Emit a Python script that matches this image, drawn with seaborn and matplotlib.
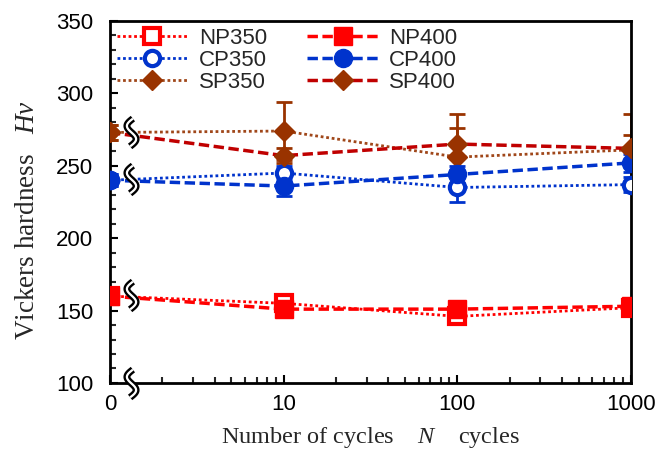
import numpy as np
import pandas as pd
import seaborn as sns
import matplotlib
matplotlib.use("Agg")
import matplotlib.pyplot as plt
from matplotlib.path import Path
from matplotlib.ticker import LogLocator, NullFormatter

# Cycle counts (0 is drawn at the position of 1 on the log axis)
cycles = [0, 10, 100, 1000]
cycle_labels = ["0", "10", "100", "1000"]

# Vickers hardness values
NP350 = [160, 155, 146, 152]
NP400 = [160, 151, 151, 153]
CP350 = [240, 245, 235, 237]
CP400 = [240, 236, 244, 252]
SP350 = [273, 274, 256, 261]
SP400 = [273, 257, 265, 262]

# error bars
NP350_err = [3, 3, 3, 3]
NP400_err = [3, 3, 3, 3]
CP350_err = [4, 5, 10, 5]
CP400_err = [4, 7, 6, 6]
SP350_err = [5, 20, 20, 10]
SP400_err = [5, 5, 21, 24]

# heights of the axis break marks
break_levels = [273, 241, 161, 100]

sns.set_style("ticks")
plt.rcParams['font.family'] = ['Liberation Sans', 'DejaVu Sans']
plt.rcParams['mathtext.fontset'] = 'custom'
plt.rcParams['mathtext.rm'] = 'Liberation Serif'
plt.rcParams['mathtext.it'] = 'Liberation Serif:italic'

x_pos = [c if c > 0 else 1 for c in cycles]

series = [
    ("NP350", NP350, NP350_err, dict(color="#FF0000", marker="s", mfc="white", mec="#FF0000", mew=3, ms=11, ls=(0, (1, 1)), lw=2.0), "#FF0000"),
    ("CP350", CP350, CP350_err, dict(color="#0033CC", marker="o", mfc="white", mec="#0033CC", mew=3, ms=11, ls=(0, (1, 1)), lw=2.0), "#0033CC"),
    ("SP350", SP350, SP350_err, dict(color="#A0471A", marker="D", mfc="#993300", mec="#993300", mew=1, ms=10, ls=(0, (1, 1)), lw=2.0), "#993300"),
    ("NP400", NP400, NP400_err, dict(color="#FF0000", marker="s", mfc="#FF0000", mec="#FF0000", mew=1, ms=13, ls=(0, (3, 1.3)), lw=2.5), "#FF0000"),
    ("CP400", CP400, CP400_err, dict(color="#0033CC", marker="o", mfc="#0033CC", mec="#0033CC", mew=1, ms=13, ls=(0, (3, 1.3)), lw=2.5), "#0033CC"),
    ("SP400", SP400, SP400_err, dict(color="#C00000", marker="D", mfc="#993300", mec="#993300", mew=1, ms=10, ls=(0, (3, 1.3)), lw=2.5), "#993300"),
]

fig = plt.figure(figsize=(6.6, 4.58), dpi=100)
ax = fig.add_axes([0.1667, 0.1638, 0.7894, 0.7904])

for name, vals, err, st, ecol in series:
    df = pd.DataFrame({"N": x_pos, "Hv": vals})
    ax.errorbar(df["N"], df["Hv"], yerr=err, fmt="none", ecolor=ecol,
                elinewidth=2, capsize=6, capthick=2, zorder=2)
    sns.lineplot(data=df, x="N", y="Hv", ax=ax, label=name, errorbar=None,
                 color=st["color"], marker=st["marker"], markersize=st["ms"],
                 markerfacecolor=st["mfc"], markeredgecolor=st["mec"],
                 markeredgewidth=st["mew"], linestyle=st["ls"], linewidth=st["lw"],
                 zorder=3)

# S-shaped break symbol
t = np.linspace(-1, 1, 40)
s_path = Path(np.column_stack([0.38 * np.sin(np.pi * t) - 0.1 * t, -t]))
for lvl in break_levels:
    ax.plot([1.32], [lvl], marker=s_path, ms=20, mfc="none", mec="black",
            mew=5, ls="none", zorder=5, clip_on=False)
    ax.plot([1.32], [lvl], marker=s_path, ms=20, mfc="none", mec="white",
            mew=1.6, ls="none", zorder=6, clip_on=False)

ax.set_xscale("log")
ax.set_xlim(1, 1000)
ax.set_ylim(100, 350)
ax.set_xticks(x_pos, labels=cycle_labels)
ax.xaxis.set_minor_locator(LogLocator(base=10, subs=np.arange(2, 10)))
ax.xaxis.set_minor_formatter(NullFormatter())
ax.set_yticks(np.arange(100, 351, 50))
ax.set_yticks(np.arange(100, 351, 10), minor=True)

ax.tick_params(axis="both", which="major", direction="in", length=6, width=1.5,
               labelsize=16, colors="black")
ax.tick_params(axis="both", which="minor", direction="in", length=4, width=1.5)
ax.tick_params(axis="y", which="major", pad=12)
ax.tick_params(axis="x", which="major", pad=8)
for sp in ax.spines.values():
    sp.set_visible(True)
    sp.set_linewidth(2)
    sp.set_color("black")

ax.set_xlabel("Number of cycles    $N$    cycles", fontsize=17.5,
              family="Liberation Serif", labelpad=7)
ax.set_ylabel("Vickers hardness   $Hv$", fontsize=19.5,
              family="Liberation Serif")
ax.yaxis.set_label_coords(-0.135, 0.45)

ax.legend(ncol=2, loc="upper left", bbox_to_anchor=(0.0, 1.0), frameon=False,
          fontsize=16, handlelength=3.2, handletextpad=0.5, columnspacing=1.8,
          labelspacing=0.05, borderaxespad=0.1, borderpad=0.2, numpoints=1)

fig.savefig("out.png", dpi=100)
